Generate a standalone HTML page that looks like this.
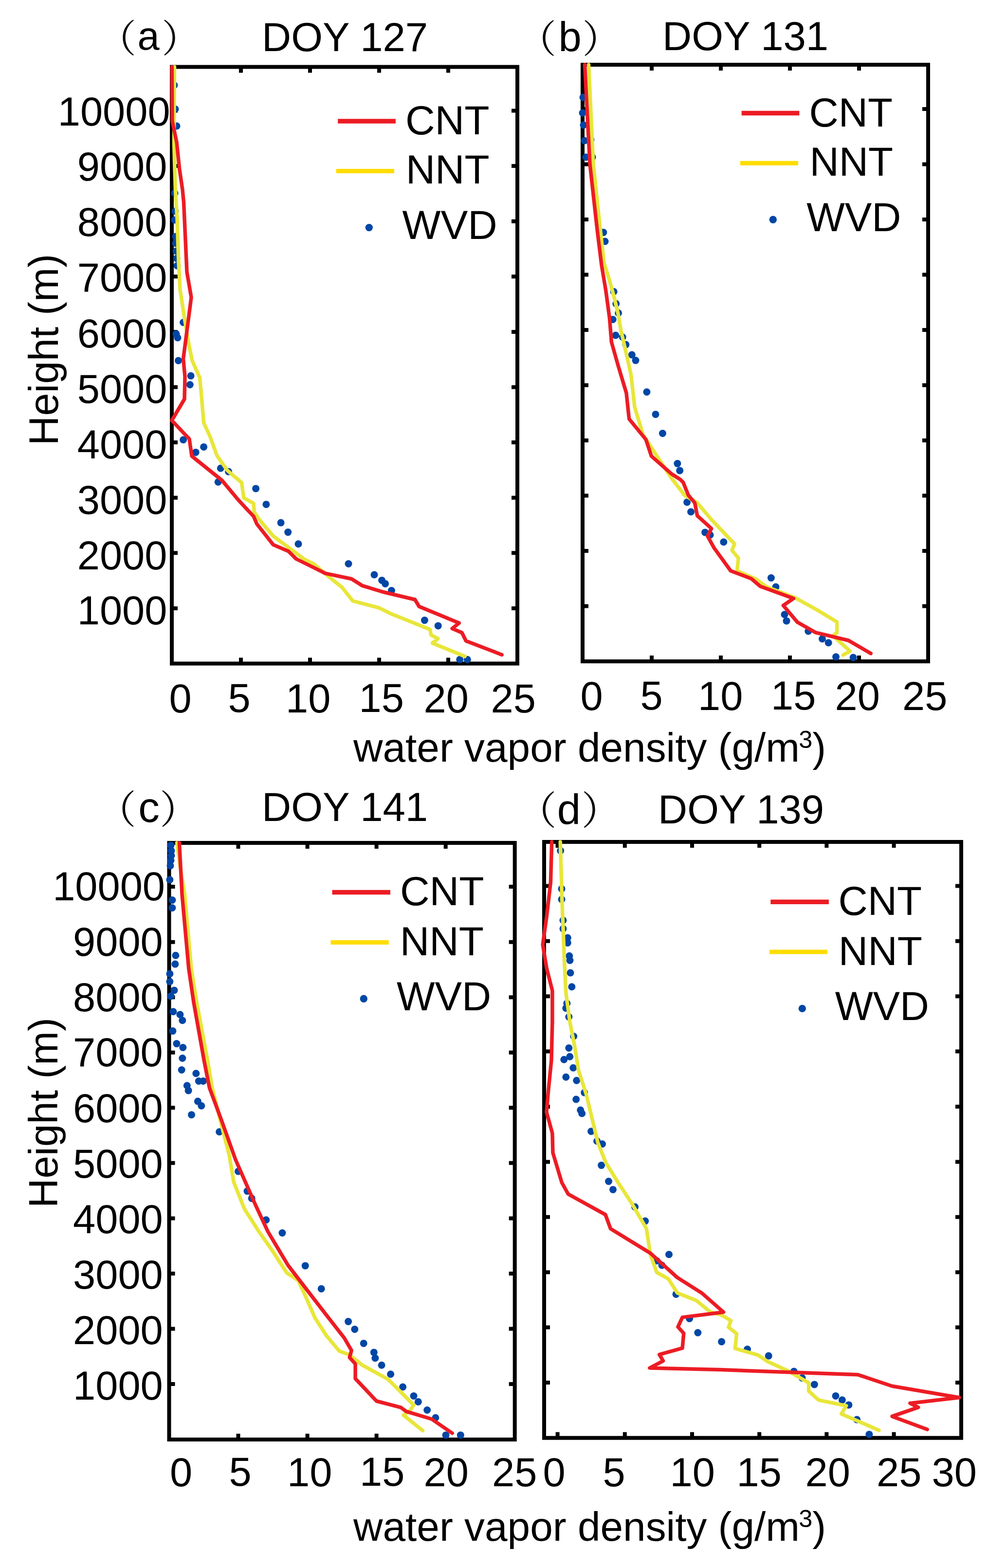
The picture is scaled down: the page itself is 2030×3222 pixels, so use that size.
<!DOCTYPE html><html><head><meta charset="utf-8"><title>Water vapor density profiles</title>
<style>html,body{margin:0;padding:0;background:#fff;}svg{display:block;}text{font-family:'Liberation Sans', Arial, sans-serif;fill:#000;}</style></head><body>
<svg width="2030" height="3222" viewBox="0 0 2030 3222">
<rect width="2030" height="3222" fill="#fff"/>
<path d="M495.0 137.5V149.5M495.0 1363.5V1351.5M637.0 137.5V149.5M637.0 1363.5V1351.5M779.0 137.5V149.5M779.0 1363.5V1351.5M921.0 137.5V149.5M921.0 1363.5V1351.5M353.0 1249.9H365.0M1063.0 1249.9H1051.0M353.0 1136.3H365.0M1063.0 1136.3H1051.0M353.0 1022.7H365.0M1063.0 1022.7H1051.0M353.0 909.1H365.0M1063.0 909.1H1051.0M353.0 795.5H365.0M1063.0 795.5H1051.0M353.0 681.9H365.0M1063.0 681.9H1051.0M353.0 568.3H365.0M1063.0 568.3H1051.0M353.0 454.7H365.0M1063.0 454.7H1051.0M353.0 341.1H365.0M1063.0 341.1H1051.0M353.0 227.5H365.0M1063.0 227.5H1051.0" stroke="#000" stroke-width="8.0" fill="none"/>
<rect x="353.0" y="137.5" width="710.0" height="1226.0" fill="none" stroke="#000" stroke-width="8.0"/>
<path d="M1339.0 133.0V145.0M1339.0 1359.0V1347.0M1481.0 133.0V145.0M1481.0 1359.0V1347.0M1623.0 133.0V145.0M1623.0 1359.0V1347.0M1765.0 133.0V145.0M1765.0 1359.0V1347.0M1197.0 1245.5H1209.0M1907.0 1245.5H1895.0M1197.0 1132.0H1209.0M1907.0 1132.0H1895.0M1197.0 1018.5H1209.0M1907.0 1018.5H1895.0M1197.0 905.0H1209.0M1907.0 905.0H1895.0M1197.0 791.5H1209.0M1907.0 791.5H1895.0M1197.0 678.0H1209.0M1907.0 678.0H1895.0M1197.0 564.5H1209.0M1907.0 564.5H1895.0M1197.0 451.0H1209.0M1907.0 451.0H1895.0M1197.0 337.5H1209.0M1907.0 337.5H1895.0M1197.0 224.0H1209.0M1907.0 224.0H1895.0" stroke="#000" stroke-width="8.0" fill="none"/>
<rect x="1197.0" y="133.0" width="710.0" height="1226.0" fill="none" stroke="#000" stroke-width="8.0"/>
<path d="M489.5 1732.0V1744.0M489.5 2958.0V2946.0M631.6 1732.0V1744.0M631.6 2958.0V2946.0M773.6 1732.0V1744.0M773.6 2958.0V2946.0M915.7 1732.0V1744.0M915.7 2958.0V2946.0M347.5 2844.0H359.5M1057.7 2844.0H1045.7M347.5 2730.5H359.5M1057.7 2730.5H1045.7M347.5 2616.9H359.5M1057.7 2616.9H1045.7M347.5 2503.4H359.5M1057.7 2503.4H1045.7M347.5 2389.8H359.5M1057.7 2389.8H1045.7M347.5 2276.3H359.5M1057.7 2276.3H1045.7M347.5 2162.8H359.5M1057.7 2162.8H1045.7M347.5 2049.2H359.5M1057.7 2049.2H1045.7M347.5 1935.7H359.5M1057.7 1935.7H1045.7M347.5 1822.1H359.5M1057.7 1822.1H1045.7" stroke="#000" stroke-width="8.0" fill="none"/>
<rect x="347.5" y="1732.0" width="710.2" height="1226.0" fill="none" stroke="#000" stroke-width="8.0"/>
<path d="M1145.6 1730.0V1742.0M1145.6 2954.7V2942.7M1283.8 1730.0V1742.0M1283.8 2954.7V2942.7M1422.0 1730.0V1742.0M1422.0 2954.7V2942.7M1560.2 1730.0V1742.0M1560.2 2954.7V2942.7M1698.4 1730.0V1742.0M1698.4 2954.7V2942.7M1836.6 1730.0V1742.0M1836.6 2954.7V2942.7M1118.0 2841.0H1130.0M1975.0 2841.0H1963.0M1118.0 2727.6H1130.0M1975.0 2727.6H1963.0M1118.0 2614.2H1130.0M1975.0 2614.2H1963.0M1118.0 2500.8H1130.0M1975.0 2500.8H1963.0M1118.0 2387.4H1130.0M1975.0 2387.4H1963.0M1118.0 2274.0H1130.0M1975.0 2274.0H1963.0M1118.0 2160.6H1130.0M1975.0 2160.6H1963.0M1118.0 2047.2H1130.0M1975.0 2047.2H1963.0M1118.0 1933.8H1130.0M1975.0 1933.8H1963.0M1118.0 1820.4H1130.0M1975.0 1820.4H1963.0" stroke="#000" stroke-width="8.0" fill="none"/>
<rect x="1118.0" y="1730.0" width="857.0" height="1224.7" fill="none" stroke="#000" stroke-width="8.0"/>
<g fill="#0046A5"><circle cx="358.0" cy="175.0" r="7.5"/><circle cx="360.0" cy="224.0" r="7.5"/><circle cx="363.0" cy="259.0" r="7.5"/><circle cx="359.0" cy="397.0" r="7.5"/><circle cx="360.0" cy="434.0" r="7.5"/><circle cx="359.0" cy="452.0" r="7.5"/><circle cx="361.0" cy="486.0" r="7.5"/><circle cx="361.0" cy="500.0" r="7.5"/><circle cx="362.0" cy="516.0" r="7.5"/><circle cx="363.0" cy="531.0" r="7.5"/><circle cx="364.0" cy="546.0" r="7.5"/><circle cx="376.6" cy="662.5" r="7.5"/><circle cx="362.0" cy="686.0" r="7.5"/><circle cx="365.0" cy="694.0" r="7.5"/><circle cx="366.5" cy="741.0" r="7.5"/><circle cx="392.1" cy="772.2" r="7.5"/><circle cx="390.3" cy="790.5" r="7.5"/><circle cx="376.6" cy="903.8" r="7.5"/><circle cx="418.6" cy="918.4" r="7.5"/><circle cx="402.2" cy="929.4" r="7.5"/><circle cx="453.3" cy="962.3" r="7.5"/><circle cx="469.5" cy="969.1" r="7.5"/><circle cx="448.2" cy="990.4" r="7.5"/><circle cx="525.6" cy="1003.9" r="7.5"/><circle cx="546.9" cy="1036.4" r="7.5"/><circle cx="577.1" cy="1074.1" r="7.5"/><circle cx="591.7" cy="1093.6" r="7.5"/><circle cx="613.0" cy="1117.8" r="7.5"/><circle cx="716.0" cy="1158.5" r="7.5"/><circle cx="769.0" cy="1181.0" r="7.5"/><circle cx="784.6" cy="1192.4" r="7.5"/><circle cx="791.6" cy="1199.4" r="7.5"/><circle cx="804.4" cy="1213.6" r="7.5"/><circle cx="872.4" cy="1274.6" r="7.5"/><circle cx="900.2" cy="1285.9" r="7.5"/><circle cx="944.7" cy="1355.3" r="7.5"/><circle cx="960.3" cy="1355.3" r="7.5"/></g>
<polyline points="358.5,137.5 357.5,292.0 359.0,346.0 360.4,390.0 364.0,450.0 367.0,540.0 370.0,595.0 378.4,650.0 387.5,704.5 394.8,741.0 410.4,775.8 414.0,814.0 418.6,869.0 431.4,896.5 446.0,936.7 467.3,966.9 496.4,991.6 500.9,1023.0 521.0,1034.2 522.2,1052.0 534.5,1070.0 561.4,1101.4 597.3,1128.3 624.2,1148.5 645.0,1159.0 674.0,1183.9 702.4,1206.5 725.0,1234.9 778.9,1249.0 801.6,1260.4 877.9,1291.2 883.9,1294.2 885.5,1304.8 899.8,1312.4 888.5,1321.5 955.2,1348.8" fill="none" stroke="#E8E63A" stroke-width="7.5" stroke-linejoin="round" stroke-linecap="round"/>
<polyline points="353.3,137.5 354.0,249.0 363.0,292.0 368.6,346.0 375.0,390.0 377.5,416.0 384.0,559.0 393.0,611.0 376.6,737.0 380.0,774.0 379.0,820.0 353.0,864.0 389.0,902.0 394.0,937.0 400.0,942.0 456.0,987.0 489.7,1027.4 521.0,1061.0 527.8,1076.8 561.4,1119.4 592.8,1132.8 608.5,1148.5 640.0,1164.0 668.3,1178.2 722.2,1189.5 744.9,1203.7 787.4,1216.5 852.6,1232.0 861.1,1246.2 943.3,1280.2 929.1,1291.6 949.0,1300.0 957.5,1317.0 1031.2,1345.4" fill="none" stroke="#EC1C24" stroke-width="7.5" stroke-linejoin="round" stroke-linecap="round"/>
<g fill="#0046A5"><circle cx="1198.0" cy="200.0" r="7.5"/><circle cx="1197.0" cy="232.0" r="7.5"/><circle cx="1199.0" cy="257.0" r="7.5"/><circle cx="1201.0" cy="289.0" r="7.5"/><circle cx="1204.0" cy="323.0" r="7.5"/><circle cx="1214.0" cy="287.0" r="7.5"/><circle cx="1217.0" cy="323.0" r="7.5"/><circle cx="1239.8" cy="477.6" r="7.5"/><circle cx="1243.1" cy="496.0" r="7.5"/><circle cx="1261.1" cy="599.2" r="7.5"/><circle cx="1265.8" cy="624.0" r="7.5"/><circle cx="1270.6" cy="643.2" r="7.5"/><circle cx="1259.2" cy="656.5" r="7.5"/><circle cx="1264.9" cy="689.0" r="7.5"/><circle cx="1279.2" cy="692.8" r="7.5"/><circle cx="1285.9" cy="708.1" r="7.5"/><circle cx="1298.3" cy="729.1" r="7.5"/><circle cx="1306.0" cy="740.6" r="7.5"/><circle cx="1328.9" cy="805.5" r="7.5"/><circle cx="1347.0" cy="851.4" r="7.5"/><circle cx="1361.4" cy="890.5" r="7.5"/><circle cx="1391.9" cy="952.6" r="7.5"/><circle cx="1396.7" cy="966.9" r="7.5"/><circle cx="1411.6" cy="1032.0" r="7.5"/><circle cx="1419.6" cy="1051.7" r="7.5"/><circle cx="1448.6" cy="1093.9" r="7.5"/><circle cx="1459.1" cy="1099.2" r="7.5"/><circle cx="1486.8" cy="1113.7" r="7.5"/><circle cx="1584.4" cy="1187.5" r="7.5"/><circle cx="1594.0" cy="1206.0" r="7.5"/><circle cx="1612.0" cy="1262.7" r="7.5"/><circle cx="1616.0" cy="1275.9" r="7.5"/><circle cx="1660.8" cy="1297.0" r="7.5"/><circle cx="1689.5" cy="1312.8" r="7.5"/><circle cx="1702.2" cy="1320.7" r="7.5"/><circle cx="1717.5" cy="1349.7" r="7.5"/><circle cx="1753.1" cy="1351.0" r="7.5"/></g>
<polyline points="1209.5,133.0 1219.0,337.0 1231.0,450.0 1241.0,540.0 1252.0,575.0 1259.0,600.0 1265.0,624.0 1270.0,645.0 1276.0,680.0 1283.0,710.0 1296.4,769.2 1304.0,836.1 1321.2,893.4 1349.9,937.3 1380.0,983.2 1391.9,998.5 1406.4,1017.5 1432.7,1033.3 1461.7,1067.6 1509.2,1117.7 1503.9,1130.8 1517.1,1146.7 1514.5,1173.0 1554.0,1190.5 1575.1,1206.0 1633.1,1228.0 1680.0,1254.0 1719.6,1278.0 1719.6,1300.0 1711.6,1306.5 1746.5,1338.0 1732.2,1346.0" fill="none" stroke="#E8E63A" stroke-width="7.5" stroke-linejoin="round" stroke-linecap="round"/>
<polyline points="1201.5,133.0 1212.0,337.0 1227.0,472.0 1236.0,545.0 1244.8,597.3 1252.5,654.6 1256.3,702.4 1269.7,750.1 1286.9,807.4 1292.6,860.9 1327.0,903.0 1338.4,937.3 1380.0,974.0 1397.6,985.1 1403.7,991.1 1414.3,1017.5 1427.5,1033.3 1432.7,1059.7 1461.7,1086.0 1453.8,1101.8 1467.0,1125.6 1501.3,1173.0 1543.5,1188.9 1561.9,1204.7 1630.5,1229.7 1609.4,1244.2 1638.4,1278.5 1675.3,1299.6 1743.3,1316.0 1789.2,1342.8" fill="none" stroke="#EC1C24" stroke-width="7.5" stroke-linejoin="round" stroke-linecap="round"/>
<g fill="#0046A5"><circle cx="351.0" cy="1737.0" r="7.5"/><circle cx="352.0" cy="1748.0" r="7.5"/><circle cx="352.0" cy="1758.0" r="7.5"/><circle cx="351.0" cy="1768.0" r="7.5"/><circle cx="350.0" cy="1779.0" r="7.5"/><circle cx="348.9" cy="1807.7" r="7.5"/><circle cx="353.9" cy="1849.6" r="7.5"/><circle cx="353.9" cy="1865.5" r="7.5"/><circle cx="360.9" cy="1963.2" r="7.5"/><circle cx="359.9" cy="1981.1" r="7.5"/><circle cx="348.9" cy="2001.0" r="7.5"/><circle cx="348.9" cy="2017.0" r="7.5"/><circle cx="357.9" cy="2034.9" r="7.5"/><circle cx="350.9" cy="2046.9" r="7.5"/><circle cx="355.9" cy="2078.8" r="7.5"/><circle cx="369.9" cy="2084.8" r="7.5"/><circle cx="374.8" cy="2096.7" r="7.5"/><circle cx="354.9" cy="2118.6" r="7.5"/><circle cx="362.9" cy="2144.6" r="7.5"/><circle cx="375.8" cy="2152.5" r="7.5"/><circle cx="374.8" cy="2174.5" r="7.5"/><circle cx="373.2" cy="2198.5" r="7.5"/><circle cx="402.8" cy="2205.8" r="7.5"/><circle cx="408.3" cy="2221.5" r="7.5"/><circle cx="417.5" cy="2221.5" r="7.5"/><circle cx="384.3" cy="2230.8" r="7.5"/><circle cx="387.1" cy="2240.9" r="7.5"/><circle cx="406.4" cy="2263.1" r="7.5"/><circle cx="413.8" cy="2272.3" r="7.5"/><circle cx="393.5" cy="2290.7" r="7.5"/><circle cx="450.7" cy="2325.8" r="7.5"/><circle cx="489.5" cy="2407.0" r="7.5"/><circle cx="508.0" cy="2447.6" r="7.5"/><circle cx="517.2" cy="2462.4" r="7.5"/><circle cx="546.7" cy="2506.7" r="7.5"/><circle cx="580.0" cy="2533.5" r="7.5"/><circle cx="627.2" cy="2600.9" r="7.5"/><circle cx="660.2" cy="2648.3" r="7.5"/><circle cx="715.6" cy="2715.6" r="7.5"/><circle cx="728.8" cy="2731.4" r="7.5"/><circle cx="747.2" cy="2760.4" r="7.5"/><circle cx="768.3" cy="2778.9" r="7.5"/><circle cx="770.9" cy="2790.7" r="7.5"/><circle cx="784.1" cy="2805.2" r="7.5"/><circle cx="802.6" cy="2823.7" r="7.5"/><circle cx="827.6" cy="2850.0" r="7.5"/><circle cx="850.0" cy="2868.5" r="7.5"/><circle cx="859.3" cy="2880.4" r="7.5"/><circle cx="877.7" cy="2897.5" r="7.5"/><circle cx="894.9" cy="2913.3" r="7.5"/><circle cx="916.0" cy="2948.9" r="7.5"/><circle cx="946.3" cy="2948.9" r="7.5"/></g>
<polyline points="363.5,1732.0 370.0,1780.0 379.5,1838.0 393.0,1990.0 404.0,2058.8 426.7,2180.0 436.0,2235.4 454.4,2309.2 471.0,2373.8 480.3,2429.2 502.4,2484.5 532.0,2530.7 560.0,2570.5 589.0,2615.4 612.7,2631.2 628.6,2665.5 647.0,2707.7 670.7,2744.6 697.1,2776.2 718.2,2784.1 744.6,2805.2 797.3,2834.2 850.0,2887.0 842.1,2898.8 829.0,2908.0 868.5,2939.7" fill="none" stroke="#E8E63A" stroke-width="7.5" stroke-linejoin="round" stroke-linecap="round"/>
<polyline points="368.5,1732.0 374.0,1838.0 387.7,1990.0 397.8,2058.8 419.4,2180.0 430.4,2235.4 454.4,2300.0 484.0,2383.0 524.6,2475.3 550.4,2530.7 567.9,2560.0 591.6,2599.6 625.9,2644.4 670.7,2702.4 707.7,2749.8 722.2,2774.9 718.2,2789.4 730.1,2802.6 730.1,2832.9 773.6,2879.0 823.7,2892.2 834.2,2900.1 887.0,2916.0 929.2,2945.0" fill="none" stroke="#EC1C24" stroke-width="7.5" stroke-linejoin="round" stroke-linecap="round"/>
<g fill="#0046A5"><circle cx="1151.7" cy="1748.0" r="7.5"/><circle cx="1154.0" cy="1826.4" r="7.5"/><circle cx="1154.0" cy="1848.0" r="7.5"/><circle cx="1157.0" cy="1891.0" r="7.5"/><circle cx="1157.0" cy="1908.4" r="7.5"/><circle cx="1166.3" cy="1927.0" r="7.5"/><circle cx="1166.3" cy="1937.4" r="7.5"/><circle cx="1169.8" cy="1964.2" r="7.5"/><circle cx="1171.0" cy="1973.5" r="7.5"/><circle cx="1172.0" cy="1999.0" r="7.5"/><circle cx="1174.8" cy="2027.8" r="7.5"/><circle cx="1164.8" cy="2061.7" r="7.5"/><circle cx="1162.8" cy="2071.7" r="7.5"/><circle cx="1168.8" cy="2089.6" r="7.5"/><circle cx="1178.7" cy="2129.5" r="7.5"/><circle cx="1168.8" cy="2153.4" r="7.5"/><circle cx="1158.8" cy="2177.3" r="7.5"/><circle cx="1170.8" cy="2171.3" r="7.5"/><circle cx="1177.8" cy="2194.3" r="7.5"/><circle cx="1162.8" cy="2213.2" r="7.5"/><circle cx="1184.7" cy="2220.2" r="7.5"/><circle cx="1200.7" cy="2245.1" r="7.5"/><circle cx="1183.7" cy="2259.0" r="7.5"/><circle cx="1192.7" cy="2281.0" r="7.5"/><circle cx="1195.7" cy="2288.0" r="7.5"/><circle cx="1214.6" cy="2324.8" r="7.5"/><circle cx="1226.6" cy="2344.8" r="7.5"/><circle cx="1237.5" cy="2350.7" r="7.5"/><circle cx="1235.6" cy="2394.6" r="7.5"/><circle cx="1250.5" cy="2427.5" r="7.5"/><circle cx="1259.5" cy="2444.4" r="7.5"/><circle cx="1304.6" cy="2480.1" r="7.5"/><circle cx="1325.7" cy="2509.1" r="7.5"/><circle cx="1374.5" cy="2577.7" r="7.5"/><circle cx="1349.4" cy="2590.8" r="7.5"/><circle cx="1360.0" cy="2600.0" r="7.5"/><circle cx="1389.0" cy="2659.4" r="7.5"/><circle cx="1416.6" cy="2709.5" r="7.5"/><circle cx="1433.8" cy="2738.5" r="7.5"/><circle cx="1482.6" cy="2757.0" r="7.5"/><circle cx="1535.5" cy="2772.6" r="7.5"/><circle cx="1579.2" cy="2786.1" r="7.5"/><circle cx="1631.3" cy="2818.0" r="7.5"/><circle cx="1648.1" cy="2831.4" r="7.5"/><circle cx="1673.3" cy="2844.9" r="7.5"/><circle cx="1717.0" cy="2868.4" r="7.5"/><circle cx="1730.4" cy="2876.8" r="7.5"/><circle cx="1743.9" cy="2886.9" r="7.5"/><circle cx="1760.7" cy="2917.1" r="7.5"/><circle cx="1785.9" cy="2947.4" r="7.5"/></g>
<polyline points="1151.2,1730.0 1154.7,1848.0 1159.8,1980.0 1162.8,2039.8 1170.8,2099.6 1180.7,2149.4 1188.7,2199.3 1204.7,2249.1 1216.6,2298.9 1228.6,2348.7 1244.5,2388.6 1270.0,2430.0 1299.3,2474.8 1328.3,2524.9 1336.2,2577.7 1349.4,2614.6 1373.1,2627.8 1391.6,2656.8 1431.1,2672.6 1460.1,2696.3 1481.2,2701.6 1501.8,2713.8 1496.8,2727.2 1513.6,2740.7 1510.3,2770.9 1557.3,2784.4 1577.5,2797.8 1621.2,2818.0 1661.5,2841.5 1661.5,2858.3 1681.7,2876.8 1738.8,2888.6 1728.7,2905.4 1806.0,2939.0" fill="none" stroke="#E8E63A" stroke-width="7.5" stroke-linejoin="round" stroke-linecap="round"/>
<polyline points="1133.7,1730.0 1131.4,1813.0 1123.3,1882.8 1115.1,1941.0 1123.3,1990.0 1134.9,2035.8 1134.9,2099.6 1132.9,2179.3 1126.9,2239.1 1122.9,2285.0 1134.9,2328.8 1135.9,2368.7 1144.9,2398.6 1154.3,2430.0 1167.5,2453.7 1243.9,2495.9 1254.5,2524.9 1336.2,2575.0 1391.6,2625.1 1441.7,2656.8 1486.5,2696.3 1402.1,2706.9 1392.9,2726.6 1404.8,2739.8 1402.1,2770.1 1354.7,2783.3 1362.6,2796.5 1334.9,2811.0 1480.0,2814.6 1762.4,2824.7 1833.0,2848.2 1970.8,2871.8 1869.9,2883.5 1886.7,2891.9 1833.0,2910.4 1905.2,2937.3" fill="none" stroke="#EC1C24" stroke-width="7.5" stroke-linejoin="round" stroke-linecap="round"/>
<line x1="694.2" y1="248.9" x2="812.9" y2="248.9" stroke="#EC1C24" stroke-width="9.5"/>
<line x1="690.7" y1="351.6" x2="810.0" y2="351.6" stroke="#FFDD00" stroke-width="9"/>
<circle cx="758.3" cy="467.6" r="7.7" fill="#0046A5"/>
<line x1="1523.7" y1="232.5" x2="1642.4" y2="232.5" stroke="#EC1C24" stroke-width="9.5"/>
<line x1="1520.9" y1="335.3" x2="1640.0" y2="335.3" stroke="#FFDD00" stroke-width="9"/>
<circle cx="1588.3" cy="451.2" r="7.7" fill="#0046A5"/>
<line x1="682.5" y1="1833.4" x2="801.9" y2="1833.4" stroke="#EC1C24" stroke-width="9.5"/>
<line x1="679.5" y1="1936.6" x2="798.8" y2="1936.6" stroke="#FFDD00" stroke-width="9"/>
<circle cx="747.3" cy="2052.2" r="7.7" fill="#0046A5"/>
<line x1="1583.3" y1="1853.2" x2="1702.9" y2="1853.2" stroke="#EC1C24" stroke-width="9.5"/>
<line x1="1580.9" y1="1955.9" x2="1700.0" y2="1955.9" stroke="#FFDD00" stroke-width="9"/>
<circle cx="1648.3" cy="2072.4" r="7.7" fill="#0046A5"/>
<text x="201.22" y="107.20" font-size="78.59" style="font-family:'Noto Serif CJK SC', 'Noto Sans CJK SC', serif">（</text>
<text x="282.45" y="102.35" font-size="81.15">a</text>
<text x="332.15" y="107.20" font-size="78.59" style="font-family:'Noto Serif CJK SC', 'Noto Sans CJK SC', serif">）</text>
<text x="538.00" y="105.00" font-size="83.30">DOY 127</text>
<text x="1063.91" y="108.05" font-size="78.92" style="font-family:'Noto Serif CJK SC', 'Noto Sans CJK SC', serif">（</text>
<text x="1147.50" y="104.70" font-size="84.90">b</text>
<text x="1196.58" y="108.05" font-size="78.92" style="font-family:'Noto Serif CJK SC', 'Noto Sans CJK SC', serif">）</text>
<text x="1361.00" y="103.00" font-size="83.30">DOY 131</text>
<text x="199.40" y="1692.45" font-size="80.16" style="font-family:'Noto Serif CJK SC', 'Noto Sans CJK SC', serif">（</text>
<text x="284.20" y="1689.40" font-size="87.24">c</text>
<text x="328.34" y="1692.45" font-size="80.18" style="font-family:'Noto Serif CJK SC', 'Noto Sans CJK SC', serif">）</text>
<text x="538.00" y="1687.00" font-size="83.30">DOY 141</text>
<text x="1063.29" y="1692.50" font-size="80.09" style="font-family:'Noto Serif CJK SC', 'Noto Sans CJK SC', serif">（</text>
<text x="1144.85" y="1692.50" font-size="86.83">d</text>
<text x="1194.84" y="1692.50" font-size="80.08" style="font-family:'Noto Serif CJK SC', 'Noto Sans CJK SC', serif">）</text>
<text x="1352.00" y="1692.00" font-size="83.30">DOY 139</text>
<text x="832.95" y="276.35" font-size="83.96">CNT</text>
<text x="833.65" y="377.20" font-size="83.67">NNT</text>
<text x="826.55" y="490.80" font-size="83.64">WVD</text>
<text x="1662.45" y="259.60" font-size="83.47">CNT</text>
<text x="1663.50" y="360.65" font-size="83.51">NNT</text>
<text x="1657.15" y="474.65" font-size="83.27">WVD</text>
<text x="821.95" y="1860.00" font-size="83.96">CNT</text>
<text x="821.75" y="1962.80" font-size="83.75">NNT</text>
<text x="815.05" y="2075.65" font-size="83.20">WVD</text>
<text x="1722.45" y="1880.30" font-size="83.47">CNT</text>
<text x="1722.75" y="1982.65" font-size="83.74">NNT</text>
<text x="1715.65" y="2095.65" font-size="82.84">WVD</text>
<text x="158.81" y="1283.00" font-size="83.00">1000</text>
<text x="158.81" y="1169.89" font-size="83.00">2000</text>
<text x="158.81" y="1055.81" font-size="83.00">3000</text>
<text x="158.81" y="941.70" font-size="83.00">4000</text>
<text x="158.81" y="827.59" font-size="83.00">5000</text>
<text x="158.81" y="713.51" font-size="83.00">6000</text>
<text x="158.81" y="599.40" font-size="83.00">7000</text>
<text x="158.81" y="485.29" font-size="83.00">8000</text>
<text x="158.81" y="371.21" font-size="83.00">9000</text>
<text x="118.76" y="258.10" font-size="83.00">10000</text>
<text x="150.11" y="2876.20" font-size="83.00">1000</text>
<text x="150.11" y="2762.08" font-size="83.00">2000</text>
<text x="150.11" y="2647.93" font-size="83.00">3000</text>
<text x="150.11" y="2533.81" font-size="83.00">4000</text>
<text x="150.11" y="2419.66" font-size="83.00">5000</text>
<text x="150.11" y="2305.54" font-size="83.00">6000</text>
<text x="150.11" y="2191.39" font-size="83.00">7000</text>
<text x="150.11" y="2078.27" font-size="83.00">8000</text>
<text x="150.11" y="1964.12" font-size="83.00">9000</text>
<text x="108.16" y="1850.00" font-size="83.00">10000</text>
<text x="347.50" y="1463.55" font-size="83.00">0</text>
<text x="468.50" y="1463.05" font-size="83.00">5</text>
<text x="587.00" y="1463.55" font-size="83.00">10</text>
<text x="737.50" y="1463.05" font-size="83.00">15</text>
<text x="870.50" y="1463.55" font-size="83.00">20</text>
<text x="1008.50" y="1463.55" font-size="83.00">25</text>
<text x="1192.50" y="1458.55" font-size="83.00">0</text>
<text x="1315.50" y="1458.05" font-size="83.00">5</text>
<text x="1434.00" y="1458.55" font-size="83.00">10</text>
<text x="1584.00" y="1458.05" font-size="83.00">15</text>
<text x="1715.50" y="1458.55" font-size="83.00">20</text>
<text x="1854.00" y="1458.55" font-size="83.00">25</text>
<text x="349.00" y="3053.85" font-size="83.00">0</text>
<text x="470.50" y="3053.35" font-size="83.00">5</text>
<text x="590.00" y="3053.85" font-size="83.00">10</text>
<text x="739.00" y="3053.35" font-size="83.00">15</text>
<text x="870.50" y="3053.85" font-size="83.00">20</text>
<text x="1011.00" y="3053.85" font-size="83.00">25</text>
<text x="1115.50" y="3054.10" font-size="83.00">0</text>
<text x="1238.50" y="3053.60" font-size="83.00">5</text>
<text x="1376.50" y="3054.10" font-size="83.00">10</text>
<text x="1513.50" y="3053.60" font-size="83.00">15</text>
<text x="1654.50" y="3054.10" font-size="83.00">20</text>
<text x="1801.00" y="3054.10" font-size="83.00">25</text>
<text x="1914.50" y="3054.10" font-size="83.00">30</text>
<text x="726.00" y="1564.60" font-size="83.78">water vapor density (g/m<tspan font-size="50.50" dx="-2.00" dy="-27.50">3</tspan><tspan dy="27.50">)</tspan></text>
<text x="726.00" y="3165.60" font-size="83.78">water vapor density (g/m<tspan font-size="50.50" dx="-2.00" dy="-27.50">3</tspan><tspan dy="27.50">)</tspan></text>
<text x="0" y="0" font-size="84.38" text-anchor="middle" transform="translate(118.80 718.50) rotate(-90)">Height (m)</text>
<text x="0" y="0" font-size="83.74" text-anchor="middle" transform="translate(117.80 2286.55) rotate(-90)">Height (m)</text>
</svg></body></html>
